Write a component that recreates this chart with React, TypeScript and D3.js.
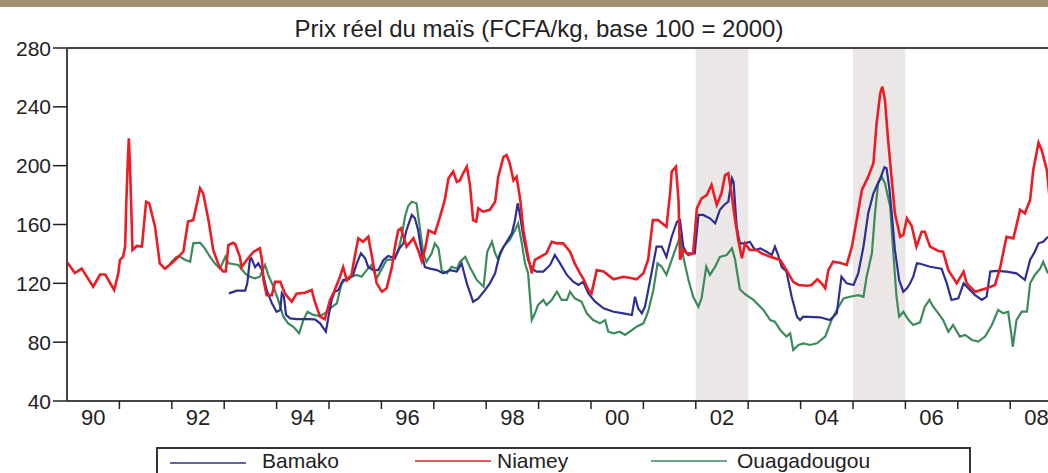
import React, { useEffect, useRef } from 'react';
import * as d3 from 'd3';

// [decimal year, price index]
const niamey: [number, number][] = [
    [1990.01, 134], [1990.15, 127], [1990.28, 130], [1990.5, 117.7], [1990.63, 126], [1990.73, 126],
    [1990.9, 115.5], [1990.98, 127], [1991.01, 136], [1991.07, 138], [1991.11, 145], [1991.13, 173],
    [1991.16, 203], [1991.18, 218.6], [1991.2, 201.6], [1991.22, 179], [1991.25, 142.7], [1991.33, 145.4],
    [1991.43, 145], [1991.51, 175.5], [1991.57, 174.4], [1991.68, 158.5], [1991.77, 133.6], [1991.87, 130],
    [1992.03, 134.7], [1992.22, 141.5], [1992.31, 162], [1992.41, 163], [1992.48, 174.4], [1992.54, 184.6],
    [1992.6, 181], [1992.7, 163], [1992.79, 142.7], [1992.91, 131], [1992.98, 128], [1993.03, 128],
    [1993.08, 146], [1993.17, 147.6], [1993.21, 146.7], [1993.3, 138], [1993.33, 131], [1993.43, 135.9],
    [1993.56, 141.5], [1993.68, 143.8], [1993.72, 136], [1993.75, 122.3], [1993.81, 112], [1993.91, 112],
    [1993.97, 121], [1994.07, 121], [1994.16, 113], [1994.29, 107.5], [1994.38, 113], [1994.54, 113.6],
    [1994.67, 115.5], [1994.73, 107.5], [1994.83, 97.3], [1994.92, 95.5], [1995.02, 108.7], [1995.08, 113],
    [1995.21, 124.5], [1995.27, 131], [1995.34, 122], [1995.43, 125.7], [1995.5, 140], [1995.56, 150.6],
    [1995.65, 148.3], [1995.75, 151.7], [1995.81, 140], [1995.91, 120], [1996.01, 114.3], [1996.1, 116.6],
    [1996.2, 131], [1996.26, 145], [1996.32, 156], [1996.37, 157.4], [1996.42, 152], [1996.48, 145],
    [1996.61, 150.6], [1996.7, 142.7], [1996.77, 135], [1996.83, 142.7], [1996.9, 156], [1997.02, 154],
    [1997.12, 165.3], [1997.21, 176.7], [1997.28, 191.4], [1997.37, 196], [1997.44, 189], [1997.5, 190],
    [1997.56, 194.8], [1997.63, 199.3], [1997.69, 187], [1997.75, 163], [1997.81, 162], [1997.85, 171],
    [1997.94, 168.7], [1998.07, 170], [1998.17, 175.5], [1998.23, 192.5], [1998.33, 206], [1998.39, 207.2],
    [1998.45, 201.6], [1998.52, 190], [1998.58, 192.5], [1998.65, 176.7], [1998.71, 156], [1998.8, 138],
    [1998.87, 126.8], [1998.93, 136], [1999.03, 138], [1999.15, 140.4], [1999.25, 148.3], [1999.35, 147.2],
    [1999.47, 147.2], [1999.6, 141.5], [1999.69, 133.6], [1999.79, 126.8], [1999.85, 123.4], [1999.95, 115.5],
    [2000.01, 113.2], [2000.11, 129], [2000.24, 128], [2000.43, 122.7], [2000.62, 124.5], [2000.78, 123.4],
    [2000.87, 122.7], [2001.0, 126.8], [2001.09, 136], [2001.18, 163], [2001.28, 163], [2001.44, 158.5],
    [2001.51, 181.2], [2001.54, 196], [2001.62, 199.3], [2001.67, 176.7], [2001.7, 136], [2001.76, 142.7],
    [2001.86, 139.3], [2001.95, 140.4], [2002.02, 171], [2002.11, 177.8], [2002.21, 180], [2002.3, 186.9],
    [2002.4, 173.3], [2002.49, 181.2], [2002.56, 193.6], [2002.62, 194.8], [2002.69, 179], [2002.75, 163],
    [2002.81, 149.5], [2002.88, 137], [2002.94, 147.2], [2003.03, 142.7], [2003.16, 142.7], [2003.26, 140.4],
    [2003.42, 138], [2003.61, 135.9], [2003.73, 129], [2003.86, 121], [2003.96, 118.9], [2004.12, 118.4],
    [2004.21, 118.9], [2004.32, 122.7], [2004.4, 120], [2004.47, 116.6], [2004.53, 129], [2004.62, 134.7],
    [2004.75, 134], [2004.88, 132.5], [2004.98, 145], [2005.07, 163], [2005.17, 183.5], [2005.29, 192.5],
    [2005.39, 201.6], [2005.45, 228.8], [2005.52, 249.2], [2005.56, 253.7], [2005.61, 244.6], [2005.67, 217.4],
    [2005.74, 190.3], [2005.8, 167.6], [2005.9, 151.7], [2005.96, 152.9], [2006.03, 164.2], [2006.12, 159],
    [2006.21, 145], [2006.31, 155.1], [2006.37, 155.1], [2006.47, 145], [2006.63, 142], [2006.72, 141.5],
    [2006.82, 129], [2006.98, 120], [2007.11, 128], [2007.17, 120], [2007.33, 114.3], [2007.55, 116.6],
    [2007.71, 118.9], [2007.81, 131], [2007.93, 151.7], [2008.06, 150.6], [2008.19, 170], [2008.28, 167.6],
    [2008.38, 176.7], [2008.44, 197], [2008.54, 215.6], [2008.6, 210.7], [2008.7, 197], [2008.76, 175],
];

const bamako: [number, number][] = [
    [1993.09, 113.2], [1993.24, 115], [1993.4, 115], [1993.44, 120], [1993.49, 136], [1993.52, 137],
    [1993.59, 131], [1993.65, 133.6], [1993.72, 129], [1993.81, 115.5], [1993.91, 106.4], [1994.0, 100.7],
    [1994.07, 101.9], [1994.1, 113.2], [1994.14, 111], [1994.18, 98.5], [1994.26, 96.2], [1994.38, 95.7],
    [1994.57, 95.7], [1994.73, 95.5], [1994.83, 92.8], [1994.94, 87.1], [1994.99, 97.3], [1995.05, 108.7],
    [1995.11, 114.3], [1995.18, 115.5], [1995.27, 122.3], [1995.37, 122.7], [1995.46, 125.7], [1995.53, 133.6],
    [1995.61, 140.4], [1995.69, 137], [1995.75, 131], [1995.85, 129], [1995.94, 129], [1996.04, 135.9],
    [1996.13, 138.6], [1996.26, 137], [1996.32, 142.7], [1996.42, 147.2], [1996.48, 156.3], [1996.58, 166.5],
    [1996.64, 164.2], [1996.7, 156.3], [1996.77, 140.4], [1996.83, 131], [1996.93, 130], [1997.06, 129],
    [1997.18, 126.8], [1997.31, 129], [1997.44, 128], [1997.53, 133.6], [1997.63, 120], [1997.75, 107.5],
    [1997.85, 109.8], [1997.98, 115.5], [1998.07, 120], [1998.17, 126.8], [1998.26, 140.4], [1998.39, 148.3],
    [1998.49, 154], [1998.55, 163], [1998.6, 174.4], [1998.65, 165.3], [1998.71, 151.7], [1998.8, 135.9],
    [1998.87, 130], [1998.96, 128], [1999.09, 128], [1999.22, 132.5], [1999.31, 139.3], [1999.41, 133.6],
    [1999.54, 125.7], [1999.66, 121.1], [1999.76, 118.9], [1999.85, 121], [1999.95, 113.2], [2000.08, 107.5],
    [2000.24, 103], [2000.43, 100.7], [2000.62, 99.6], [2000.78, 98.5], [2000.84, 110.9], [2000.9, 103],
    [2000.97, 99.6], [2001.03, 104.1], [2001.13, 122.3], [2001.25, 145], [2001.35, 145], [2001.44, 138],
    [2001.54, 151.7], [2001.64, 161.9], [2001.7, 163], [2001.76, 145], [2001.83, 140.4], [2001.98, 140.4],
    [2002.05, 166.5], [2002.14, 166.5], [2002.27, 164.2], [2002.37, 160.8], [2002.46, 170], [2002.54, 173.3],
    [2002.62, 175.5], [2002.69, 191.4], [2002.72, 189], [2002.78, 158.5], [2002.84, 147.2], [2002.94, 147.2],
    [2003.03, 148.3], [2003.13, 142.7], [2003.23, 143.8], [2003.35, 141.5], [2003.45, 139.3], [2003.51, 145],
    [2003.57, 139.3], [2003.64, 131], [2003.73, 128], [2003.83, 110.9], [2003.93, 97.3], [2003.99, 95],
    [2004.05, 97.3], [2004.37, 96.9], [2004.56, 95], [2004.69, 99.6], [2004.78, 124.5], [2004.88, 120],
    [2005.01, 118.9], [2005.1, 126.8], [2005.2, 145], [2005.29, 167.6], [2005.39, 181.2], [2005.52, 191.4],
    [2005.6, 198.9], [2005.64, 198.2], [2005.69, 185.7], [2005.74, 167.6], [2005.8, 142.7], [2005.88, 122.3],
    [2005.96, 114.3], [2006.03, 116.6], [2006.09, 120], [2006.15, 124.5], [2006.22, 133.6], [2006.28, 133.3],
    [2006.47, 131.3], [2006.69, 130], [2006.79, 120], [2006.88, 108.7], [2007.01, 109.8], [2007.11, 120],
    [2007.2, 116.6], [2007.33, 112], [2007.46, 108.7], [2007.55, 110.9], [2007.62, 128], [2007.74, 128.4],
    [2007.93, 128], [2008.12, 126.8], [2008.28, 122.3], [2008.38, 135.9], [2008.47, 141.5], [2008.54, 147.2],
    [2008.63, 148.3], [2008.72, 151.7],
];

const ouagadougou: [number, number][] = [
    [1991.97, 133.6], [1992.09, 138], [1992.16, 138], [1992.25, 136], [1992.35, 134.7], [1992.41, 147.2],
    [1992.54, 147.6], [1992.63, 143.8], [1992.73, 138], [1992.82, 133.6], [1992.92, 130], [1993.02, 138],
    [1993.08, 133.6], [1993.27, 132.5], [1993.4, 126.8], [1993.49, 124.5], [1993.59, 123.4], [1993.68, 124.5],
    [1993.78, 132.5], [1993.84, 125.7], [1993.94, 117.7], [1994.03, 108.7], [1994.13, 97.3], [1994.22, 92.8],
    [1994.32, 90.5], [1994.43, 86], [1994.51, 95], [1994.59, 100.7], [1994.7, 98.5], [1994.83, 97.8],
    [1994.92, 99.6], [1995.02, 103], [1995.15, 106.4], [1995.24, 120], [1995.34, 123.4], [1995.43, 124.5],
    [1995.53, 125.7], [1995.62, 124.5], [1995.72, 129], [1995.81, 132.5], [1995.91, 123.4], [1996.01, 130],
    [1996.1, 136], [1996.23, 136.3], [1996.32, 141.5], [1996.39, 152.9], [1996.45, 165.3], [1996.51, 172.6],
    [1996.58, 175.5], [1996.67, 174.4], [1996.74, 156.3], [1996.8, 140.4], [1996.86, 134.7], [1996.96, 140.4],
    [1997.02, 147.2], [1997.09, 143.8], [1997.15, 129], [1997.25, 126.8], [1997.34, 131.3], [1997.44, 130],
    [1997.5, 134.7], [1997.6, 138], [1997.69, 131], [1997.82, 122.3], [1997.95, 117.7], [1998.02, 141.5],
    [1998.11, 148.3], [1998.17, 140.4], [1998.23, 136], [1998.33, 145], [1998.45, 149.5], [1998.55, 156.3],
    [1998.61, 160.8], [1998.68, 147.2], [1998.74, 133.6], [1998.8, 126.8], [1998.87, 95], [1998.93, 99.6],
    [1998.99, 105.3], [1999.09, 108.7], [1999.15, 105.3], [1999.25, 108.7], [1999.35, 114.3], [1999.44, 108.7],
    [1999.54, 108.7], [1999.6, 114.3], [1999.69, 109.8], [1999.82, 107.5], [1999.92, 99.6], [2000.04, 95],
    [2000.17, 92.8], [2000.27, 95], [2000.33, 87.1], [2000.43, 86], [2000.55, 87.1], [2000.65, 84.9],
    [2000.74, 87.1], [2000.87, 90.5], [2001.0, 92.8], [2001.09, 100.7], [2001.19, 115.5], [2001.27, 133.6],
    [2001.35, 131.3], [2001.44, 125.7], [2001.54, 136], [2001.64, 146], [2001.7, 151.7], [2001.76, 138],
    [2001.86, 122.3], [2001.95, 110.9], [2002.05, 104.1], [2002.11, 109.8], [2002.2, 131.3], [2002.27, 125.7],
    [2002.37, 131.3], [2002.46, 138], [2002.59, 139.3], [2002.69, 143.8], [2002.75, 136], [2002.84, 116],
    [2002.94, 112.6], [2003.1, 108.7], [2003.29, 101.9], [2003.42, 95], [2003.51, 93.9], [2003.61, 88.3],
    [2003.73, 83.8], [2003.8, 86], [2003.86, 74.7], [2003.96, 78.1], [2004.05, 79.2], [2004.18, 78.1],
    [2004.31, 79.2], [2004.47, 83.8], [2004.59, 95], [2004.69, 101.9], [2004.82, 109.8], [2004.94, 110.9],
    [2005.1, 112], [2005.2, 110.9], [2005.26, 124.5], [2005.36, 140.4], [2005.42, 167.6], [2005.48, 188],
    [2005.55, 192.5], [2005.61, 188], [2005.71, 172.1], [2005.77, 140.4], [2005.83, 110.9], [2005.88, 97.3],
    [2005.96, 100.7], [2006.06, 95], [2006.15, 91.7], [2006.28, 93.5], [2006.37, 104.1], [2006.46, 108.7],
    [2006.53, 104.1], [2006.63, 99.6], [2006.72, 95], [2006.82, 87.1], [2006.91, 91.7], [2007.04, 83.8],
    [2007.14, 84.9], [2007.27, 81.5], [2007.39, 80.4], [2007.52, 83.8], [2007.65, 91.7], [2007.77, 101.9],
    [2007.87, 99.6], [2007.96, 100.7], [2008.02, 86], [2008.05, 76.9], [2008.12, 95], [2008.22, 100.7],
    [2008.32, 100.7], [2008.38, 120], [2008.47, 125.7], [2008.57, 130], [2008.63, 134.7], [2008.72, 126.8],
];

const shadedYears = [2002, 2005];
const yTicks = [40, 80, 120, 160, 200, 240, 280];
const xLabelYears = [1990, 1992, 1994, 1996, 1998, 2000, 2002, 2004, 2006, 2008];

const series = [
    { name: 'Bamako', data: bamako, color: '#2e2f92', width: 2.2 },
    { name: 'Niamey', data: niamey, color: '#ed1c24', width: 2.6 },
    { name: 'Ouagadougou', data: ouagadougou, color: '#3d8a5c', width: 2.2 },
];

const W = 1048;
const H = 473;
const FONT = '"Liberation Sans", Arial, sans-serif';

const App: React.FC = () => {
    const svgRef = useRef<SVGSVGElement>(null);

    useEffect(() => {
        if (!svgRef.current) return;
        const svg = d3.select(svgRef.current);
        svg.selectAll('*').remove();

        const left = 67, top = 48, bottom = 401;
        const x = d3.scaleLinear().domain([1990, 2009]).range([left, left + 19 * 52.4]);
        const y = d3.scaleLinear().domain([40, 280]).range([bottom, top]);

        svg.append('rect').attr('x', 0).attr('y', 0).attr('width', W).attr('height', 7).attr('fill', '#a39272');

        svg.append('text')
            .attr('x', 539).attr('y', 37)
            .attr('text-anchor', 'middle')
            .attr('font-family', FONT).attr('font-size', 24).attr('fill', '#222')
            .text('Prix réel du maïs (FCFA/kg, base 100 = 2000)');

        // shaded periods
        svg.append('g').selectAll('rect')
            .data(shadedYears)
            .join('rect')
            .attr('x', d => x(d))
            .attr('y', top)
            .attr('width', d => x(d + 1) - x(d))
            .attr('height', bottom - top)
            .attr('fill', '#ebe7e6');

        const line = d3.line<[number, number]>()
            .x(d => x(d[0]))
            .y(d => y(d[1]));

        const lines = svg.append('g');
        [series[2], series[0], series[1]].forEach(s => {
            lines.append('path')
                .datum(s.data)
                .attr('fill', 'none')
                .attr('stroke', s.color)
                .attr('stroke-width', s.width)
                .attr('d', line);
        });

        // frame
        const frame = svg.append('g').attr('stroke', '#444').attr('stroke-width', 2).attr('fill', 'none');
        frame.append('line').attr('x1', left).attr('x2', W).attr('y1', top).attr('y2', top);
        frame.append('line').attr('x1', left).attr('x2', left).attr('y1', top).attr('y2', bottom);
        frame.append('line').attr('x1', left).attr('x2', W).attr('y1', bottom).attr('y2', bottom);

        // y axis
        const yAxis = svg.append('g');
        yAxis.selectAll('line')
            .data(yTicks)
            .join('line')
            .attr('x1', 53).attr('x2', left)
            .attr('y1', d => y(d)).attr('y2', d => y(d))
            .attr('stroke', '#222').attr('stroke-width', 1.5);
        yAxis.selectAll('text')
            .data(yTicks)
            .join('text')
            .attr('x', 51).attr('y', d => y(d))
            .attr('dy', '0.36em')
            .attr('text-anchor', 'end')
            .attr('font-family', FONT).attr('font-size', 21).attr('fill', '#222')
            .text(d => d);

        // x axis
        const xAxis = svg.append('g');
        xAxis.selectAll('line')
            .data(d3.range(1991, 2009))
            .join('line')
            .attr('x1', d => x(d)).attr('x2', d => x(d))
            .attr('y1', bottom).attr('y2', bottom + 8)
            .attr('stroke', '#222').attr('stroke-width', 1.5);
        xAxis.selectAll('text')
            .data(xLabelYears)
            .join('text')
            .attr('x', d => x(d + 0.5))
            .attr('y', 425)
            .attr('text-anchor', 'middle')
            .attr('font-family', FONT).attr('font-size', 22).attr('fill', '#222')
            .text(d => String(d % 100).padStart(2, '0'));

        // legend
        const legend = svg.append('g');
        legend.append('path')
            .attr('d', `M157,${H} V448 H970 V${H}`)
            .attr('fill', 'none').attr('stroke', '#333').attr('stroke-width', 2);
        const legendLineX = [170, 415, 651];
        const legendTextX = [262, 497, 737];
        series.forEach((s, i) => {
            legend.append('line')
                .attr('x1', legendLineX[i]).attr('x2', legendLineX[i] + 76)
                .attr('y1', i === 0 ? 463 : 461).attr('y2', i === 0 ? 463 : 461)
                .attr('stroke', s.color).attr('stroke-width', 1.5);
            legend.append('text')
                .attr('x', legendTextX[i]).attr('y', 468)
                .attr('font-family', FONT).attr('font-size', 21).attr('fill', '#222')
                .text(s.name);
        });
    }, []);

    return (
        <svg ref={svgRef} width={W} height={H}
             style={{ position: 'absolute', left: 0, top: 0, background: '#fff' }} />
    );
};

export default App;
